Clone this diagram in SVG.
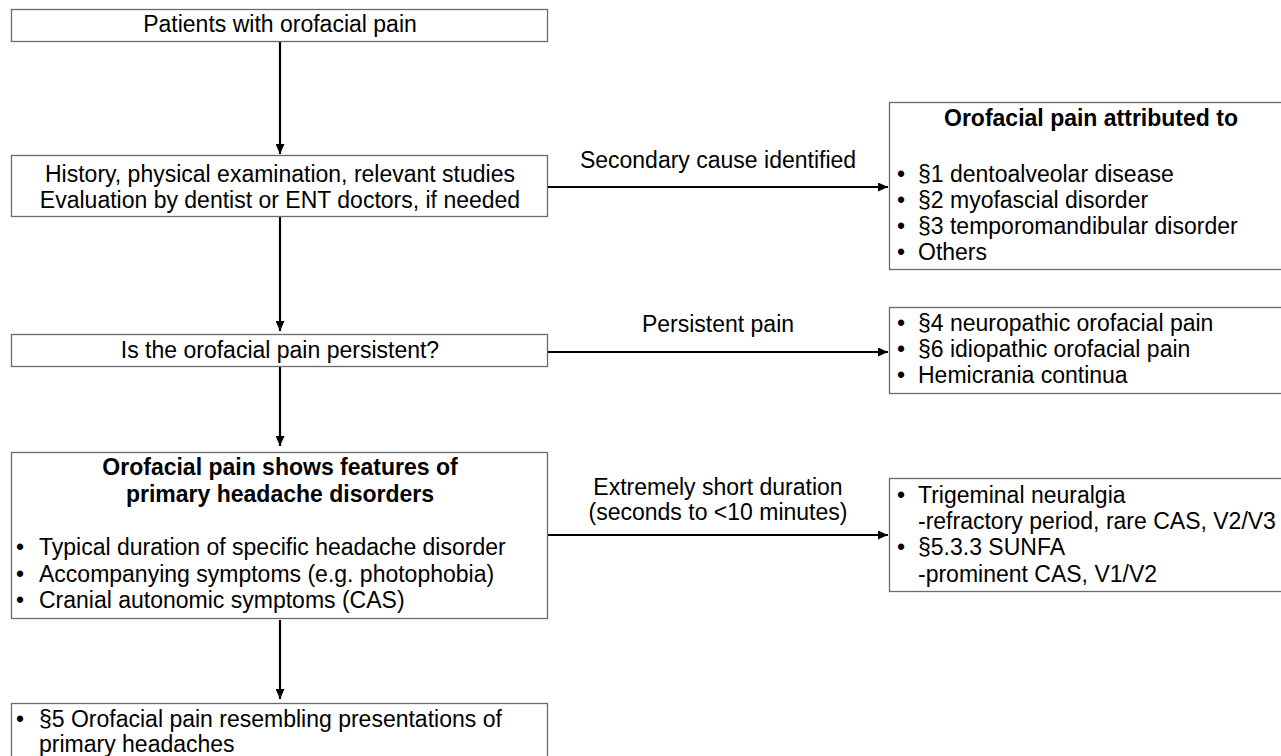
<svg xmlns="http://www.w3.org/2000/svg" width="1281" height="756" viewBox="0 0 1281 756">
<defs>
<marker id="ah" markerWidth="10" markerHeight="9" refX="10" refY="4.5" orient="auto" markerUnits="userSpaceOnUse">
<path d="M0,0 L10,4.5 L0,9 Z" fill="#000"/>
</marker>
<style>
.box{fill:#fff;stroke:#6b6b6b;stroke-width:1.3}
text{font-family:"Liberation Sans",Arial,sans-serif;font-size:23px;fill:#000}
.c{text-anchor:middle}
.b{font-weight:bold}
.edge{stroke:#000;stroke-width:2.2;fill:none;marker-end:url(#ah)}
</style>
</defs>
<rect width="1281" height="756" fill="#fff"/>
<g id="connectors">
<line class="edge" x1="280" y1="41" x2="280" y2="154"/>
<line class="edge" x1="280" y1="217" x2="280" y2="331"/>
<line class="edge" x1="280" y1="367" x2="280" y2="446"/>
<line class="edge" x1="280" y1="620" x2="280" y2="699"/>
<line class="edge" x1="548" y1="187" x2="888" y2="187"/>
<line class="edge" x1="548" y1="352" x2="888" y2="352"/>
<line class="edge" x1="548" y1="535" x2="888" y2="535"/>
<text class="c" x="718" y="168">Secondary cause identified</text>
<text class="c" x="718" y="332">Persistent pain</text>
<text class="c" x="718" y="495">Extremely short duration</text>
<text class="c" x="718" y="520">(seconds to &lt;10 minutes)</text>
</g>
<g id="n1">
<rect class="box" x="11.5" y="9.5" width="536" height="32"/>
<text class="c" x="280" y="32">Patients with orofacial pain</text>
</g>
<g id="n2">
<rect class="box" x="11.5" y="155.5" width="536" height="61"/>
<text class="c" x="280" y="182">History, physical examination, relevant studies</text>
<text class="c" x="280" y="208">Evaluation by dentist or ENT doctors, if needed</text>
</g>
<g id="n3">
<rect class="box" x="889.5" y="102.5" width="420" height="167"/>
<text class="c b" x="1091" y="126">Orofacial pain attributed to</text>
<text x="897" y="182">•</text><text x="918" y="182">§1 dentoalveolar disease</text>
<text x="897" y="208">•</text><text x="918" y="208">§2 myofascial disorder</text>
<text x="897" y="234">•</text><text x="918" y="234">§3 temporomandibular disorder</text>
<text x="897" y="260">•</text><text x="918" y="260">Others</text>
</g>
<g id="n4">
<rect class="box" x="11.5" y="334.5" width="536" height="32"/>
<text class="c" x="280" y="358">Is the orofacial pain persistent?</text>
</g>
<g id="n5">
<rect class="box" x="889.5" y="307.5" width="420" height="86"/>
<text x="897" y="331">•</text><text x="918" y="331">§4 neuropathic orofacial pain</text>
<text x="897" y="357">•</text><text x="918" y="357">§6 idiopathic orofacial pain</text>
<text x="897" y="383">•</text><text x="918" y="383">Hemicrania continua</text>
</g>
<g id="n6">
<rect class="box" x="11.5" y="452.5" width="536" height="166"/>
<text class="c b" x="280" y="475">Orofacial pain shows features of</text>
<text class="c b" x="280" y="502">primary headache disorders</text>
<text x="16" y="555">•</text><text x="39" y="555">Typical duration of specific headache disorder</text>
<text x="16" y="582">•</text><text x="39" y="582">Accompanying symptoms (e.g. photophobia)</text>
<text x="16" y="608">•</text><text x="39" y="608">Cranial autonomic symptoms (CAS)</text>
</g>
<g id="n7">
<rect class="box" x="889.5" y="478.5" width="420" height="113"/>
<text x="897" y="503">•</text><text x="918" y="503">Trigeminal neuralgia</text>
<text x="918" y="529">-refractory period, rare CAS, V2/V3</text>
<text x="897" y="555">•</text><text x="918" y="555">§5.3.3 SUNFA</text>
<text x="918" y="582">-prominent CAS, V1/V2</text>
</g>
<g id="n8">
<rect class="box" x="11.5" y="703.5" width="536" height="80"/>
<text x="16" y="727">•</text><text x="39" y="727">§5 Orofacial pain resembling presentations of</text>
<text x="39" y="752">primary headaches</text>
</g>
</svg>
